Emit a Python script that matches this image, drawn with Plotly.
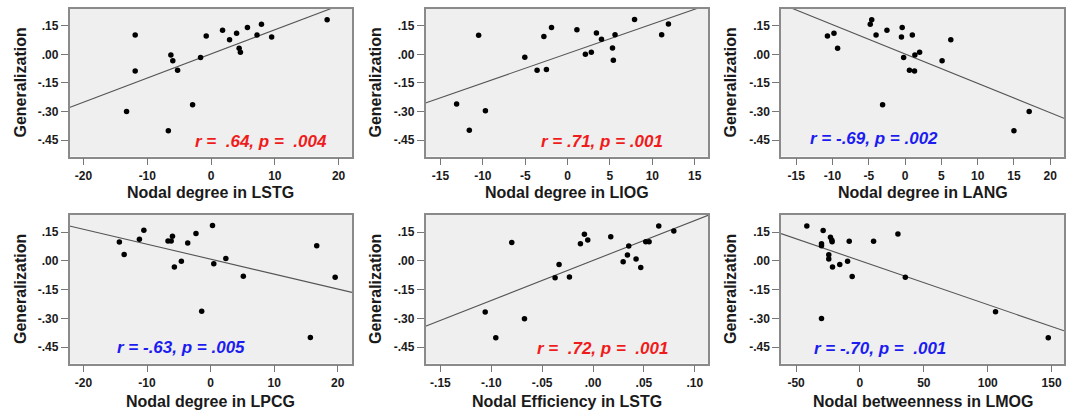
import numpy as np
import plotly.graph_objects as go

# ---------------- data ----------------
lstg_degree = [18.2, -11.9, -11.9, -6.3, -6.0, -5.25, -13.25, -6.7, -2.9, -1.65,
               -0.76, 1.8, 2.9, 4.0, 4.4, 4.6, 5.7, 7.2, 7.9, 9.5]
lstg_degree_gen = [.181, .101, -.087, -.003, -.034, -.083, -.299, -.400, -.264, -.017,
                   .096, .126, .077, .110, .032, .011, .140, .101, .157, .091]

liog_degree = [-10.5, -13.1, -11.6, -9.7, -5.05, -3.6, -2.8, -2.5, -1.9, 1.1,
               2.1, 2.8, 3.4, 4.0, 5.3, 5.4, 5.6, 7.9, 11.1, 11.9]
liog_degree_gen = [.100, -.260, -.398, -.295, -.015, -.083, .093, -.080, .141, .129,
                   .000, .011, .112, .079, .033, -.031, .103, .183, .103, .159]

lang_degree = [-10.7, -9.8, -9.3, -4.8, -4.6, -4.0, -2.5, -0.4, -0.5, 1.0,
               -0.2, 1.35, 2.0, 0.6, 1.3, 5.1, 6.3, -3.1, 15.0, 17.1]
lang_degree_gen = [.096, .110, .032, .157, .181, .101, .126, .140, .091, .101,
                   -.017, -.003, .011, -.083, -.087, -.034, .077, -.264, -.400, -.299]

lpcg_degree = [-14.35, -13.6, -11.2, -10.5, -6.7, -6.2, -6.0, -5.7, -4.6, -3.6,
               -2.3, -1.4, 0.3, 0.5, 2.4, 5.15, 15.7, 16.7, 19.6]
lpcg_degree_gen = [.099, .034, .113, .161, .104, .104, .129, -.031, -.001, .094,
                   .143, -.262, .185, -.015, .013, -.080, -.399, .080, -.085]

lstg_eff = [-.106, -.0956, -.0799, -.0674, -.0373, -.0334, -.0232, -.0124, -.0085, -.0052,
            .0174, .0296, .0338, .0351, .0423, .0469, .0518, .0551, .0646, .0794]
lstg_eff_gen = [-.266, -.400, .097, -.301, -.087, -.018, -.083, .090, .139, .110,
                .127, -.004, .031, .078, .010, -.034, .101, .101, .182, .157]

lmog_betw = [-41.6, -28.8, -30.1, -30.1, -30.1, -23.1, -22.0, -21.8, -24.4, -24.4,
             -21.5, -15.8, -9.7, -8.4, -6.1, 10.65, 29.7, 35.5, 106.1, 147.4]
lmog_betw_gen = [.183, .159, .090, .080, -.300, .124, .108, .101, .033, .010,
                 -.032, -.018, -.002, .103, -.081, .103, .141, -.085, -.265, -.401]

x_titles = ["Nodal degree in LSTG", "Nodal degree in LIOG", "Nodal degree in LANG",
            "Nodal degree in LPCG", "Nodal Efficiency in LSTG", "Nodal betweenness in LMOG"]
stats_text = ["r =  .64, p =  .004", "r = .71, p = .001", "r = -.69, p = .002",
              "r = -.63, p = .005", "r =  .72, p =  .001", "r = -.70, p =  .001"]
stats_sign = [1, 1, -1, -1, 1, -1]

y_tickvals = [.15, .00, -.15, -.30, -.45]
y_ticktext = [".15", ".00", "-.15", "-.30", "-.45"]
x_tickvals = [
    [-20, -10, 0, 10, 20],
    [-15, -10, -5, 0, 5, 10, 15],
    [-15, -10, -5, 0, 5, 10, 15, 20],
    [-20, -10, 0, 10, 20],
    [-.15, -.10, -.05, 0, .05, .10],
    [-50, 0, 50, 100, 150],
]
x_ticktext = [
    ["-20", "-10", "0", "10", "20"],
    ["-15", "-10", "-5", "0", "5", "10", "15"],
    ["-15", "-10", "-5", "0", "5", "10", "15", "20"],
    ["-20", "-10", "0", "10", "20"],
    ["-.15", "-.10", "-.05", ".00", ".05", ".10"],
    ["-50", "0", "50", "100", "150"],
]

# ---------------- layout / style ----------------
W, H = 1071, 416
FONT = "Liberation Sans, Arial, sans-serif"
xs_all = [lstg_degree, liog_degree, lang_degree, lpcg_degree, lstg_eff, lmog_betw]
ys_all = [lstg_degree_gen, liog_degree_gen, lang_degree_gen, lpcg_degree_gen, lstg_eff_gen, lmog_betw_gen]
x_ranges = [[-22.2, 22.1], [-16.77, 16.57], [-17.1, 21.9],
            [-22.2, 22.25], [-.1647, .113], [-61.8, 159.7]]
y_range = [-0.535, 0.24]

col_px = [(69.5, 352.0), (425.5, 708.0), (781.0, 1064.0)]
row_px = [(8.5, 156.5), (215.0, 363.5)]
stat_pos = [(0.437, 0.098), (0.402, 0.099), (0.095, 0.12),
            (0.161, 0.107), (0.388, 0.103), (0.11, 0.098)]
xtitle_y = [192, 401]
ytitle_x = [20, 375, 730]
ytitle_y = [82.5, 289]

RED = "#f01c1c"
BLUE = "#1c1cf0"
FRAME = "#8a8a8a"

fig = go.Figure()
annotations = []
for i in range(6):
    r, c = divmod(i, 3)
    n = i + 1
    xa = "x" if n == 1 else f"x{n}"
    ya = "y" if n == 1 else f"y{n}"
    x0, x1 = col_px[c]
    t0, t1 = row_px[r]
    xd = [x0 / W, x1 / W]
    yd = [1 - t1 / H, 1 - t0 / H]
    xr = x_ranges[i]

    xs = np.array(xs_all[i], dtype=float)
    ys = np.array(ys_all[i], dtype=float)
    slope, icpt = np.polyfit(xs, ys, 1)
    lx = np.array(xr)
    fig.add_trace(go.Scatter(x=lx, y=slope * lx + icpt, mode="lines",
                             line=dict(color="#555555", width=1.1),
                             xaxis=xa, yaxis=ya, showlegend=False, hoverinfo="skip"))
    fig.add_trace(go.Scatter(x=xs, y=ys, mode="markers",
                             marker=dict(color="black", size=5.5),
                             xaxis=xa, yaxis=ya, showlegend=False))

    axis_common = dict(showgrid=False, zeroline=False, showline=True, mirror=True,
                       linecolor=FRAME, linewidth=1.5, ticks="outside", ticklen=7,
                       tickcolor="#777777", tickwidth=1,
                       tickfont=dict(family=FONT, size=12, color="#1a1a1a", weight="bold"))
    fig.layout[("xaxis" if n == 1 else f"xaxis{n}")] = dict(
        domain=xd, range=xr, anchor=ya, tickmode="array",
        tickvals=x_tickvals[i], ticktext=x_ticktext[i], **axis_common)
    fig.layout[("yaxis" if n == 1 else f"yaxis{n}")] = dict(
        domain=yd, range=y_range, anchor=xa, tickmode="array",
        tickvals=y_tickvals, ticktext=y_ticktext, **axis_common)

    # statistics text
    sx, sy = stat_pos[i]
    annotations.append(dict(
        text=f"<i>{stats_text[i].replace('  ', '&nbsp; ')}</i>",
        xref=f"{xa} domain", yref=f"{ya} domain", x=sx, y=sy,
        xanchor="left", yanchor="middle", showarrow=False,
        font=dict(family=FONT, size=17, weight="bold",
                  color=RED if stats_sign[i] > 0 else BLUE)))
    # x title
    annotations.append(dict(
        text=x_titles[i], xref="paper", yref="paper",
        x=(x0 + x1) / 2 / W, y=1 - xtitle_y[r] / H,
        xanchor="center", yanchor="middle", showarrow=False,
        font=dict(family=FONT, size=16, weight="bold", color="#1a1a1a")))
    # y title
    annotations.append(dict(
        text="Generalization", xref="paper", yref="paper",
        x=ytitle_x[c] / W, y=1 - ytitle_y[r] / H, textangle=-90,
        xanchor="center", yanchor="middle", showarrow=False,
        font=dict(family=FONT, size=16, weight="bold", color="#1a1a1a")))

fig.update_layout(
    width=W, height=H, margin=dict(l=0, r=0, t=0, b=0),
    paper_bgcolor="white", plot_bgcolor="#efefef",
    annotations=annotations, showlegend=False,
)
fig.write_html("out.html", config={"displayModeBar": False},
               post_script="document.body.style.margin='0';document.body.style.overflow='hidden';")
